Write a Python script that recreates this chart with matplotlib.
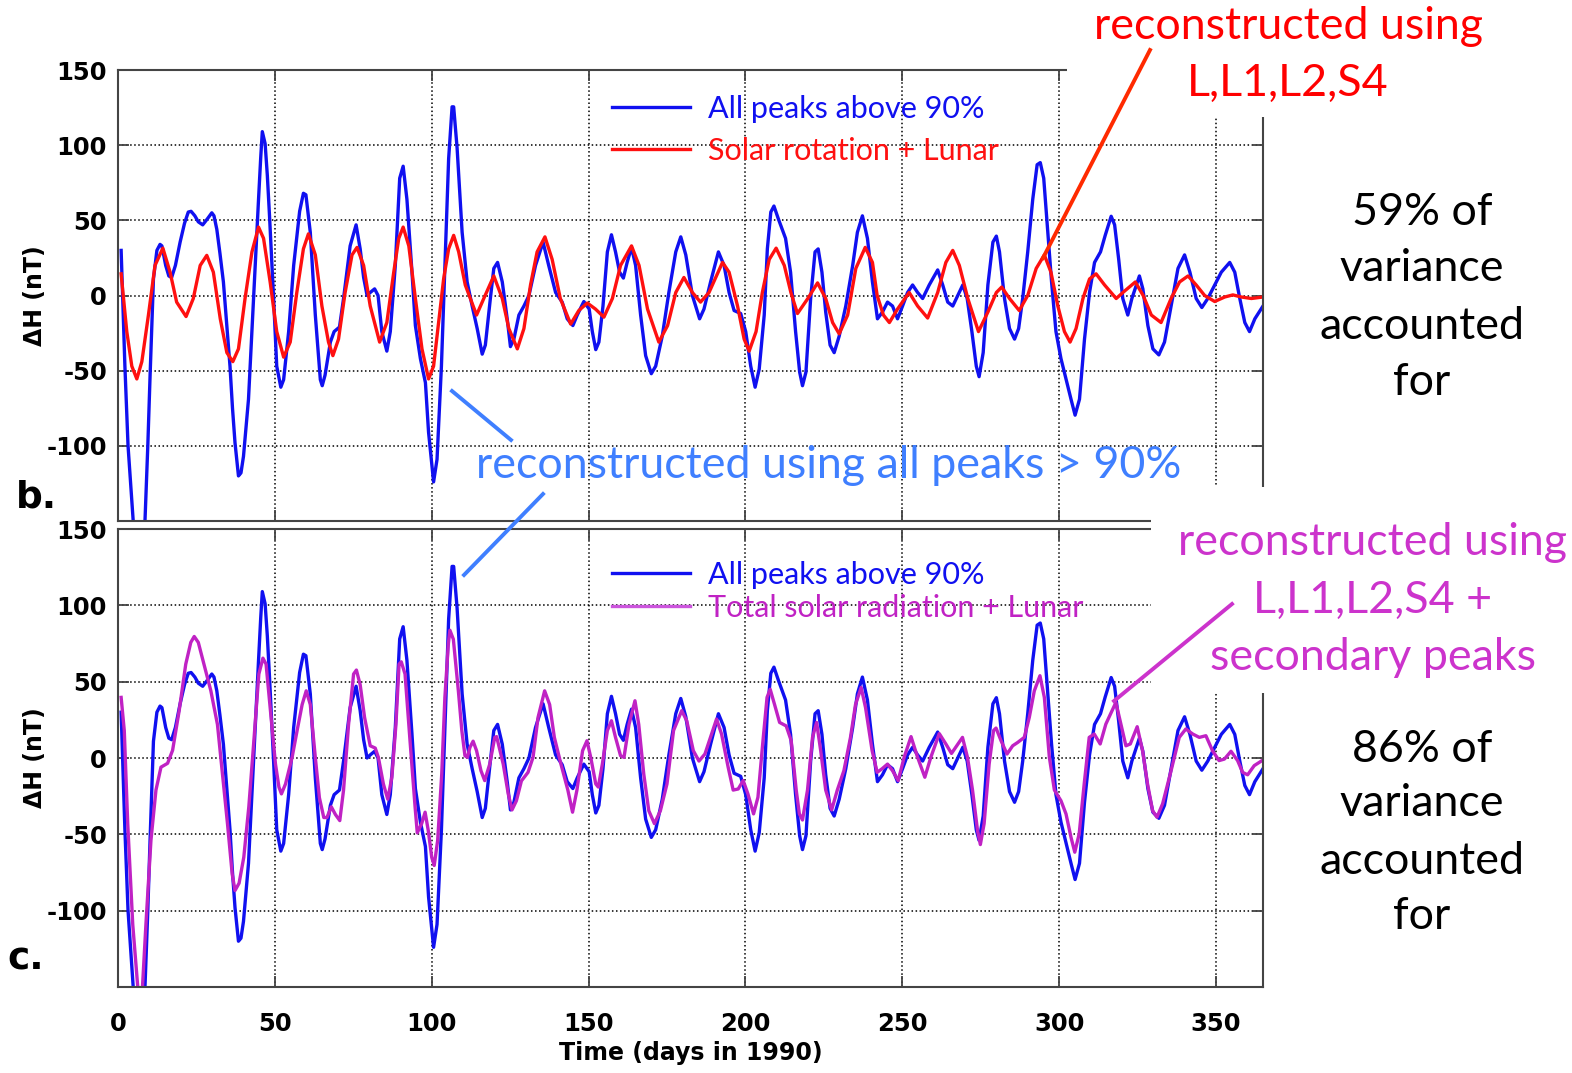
import matplotlib
matplotlib.use('Agg')
import matplotlib.pyplot as plt
from matplotlib.lines import Line2D
from matplotlib.patches import Rectangle

plt.rcParams['axes.unicode_minus'] = False

# ---- data (day of 1990, delta H in nT) ----
blue_days = [1.0, 2.2, 3.2, 6.0, 8.6, 9.5, 10.2, 11.3, 12.4, 13.4, 14.0, 15.2, 16.2, 17.1, 18.3, 19.8,
             21.2, 22.4, 23.3, 24.5, 25.6, 27.0, 28.5, 29.9, 30.6, 31.5, 32.5, 33.6, 34.7, 35.7, 36.5,
             37.3, 38.4, 39.2, 40.0, 41.6, 43.2, 44.8, 45.5, 46.0, 46.9, 47.6, 48.3, 49.6, 50.6, 51.9,
             52.8, 54.4, 56.0, 57.9, 59.1, 59.9, 61.3, 62.9, 64.5, 65.1, 66.0, 67.7, 68.9, 70.6, 71.9,
             74.0, 75.9, 77.2, 78.3, 79.4, 80.4, 81.8, 82.9, 84.1, 85.7, 86.8, 88.4, 89.8, 90.9, 92.1,
             93.7, 94.8, 96.4, 98.0, 99.0, 100.6, 101.7, 103.1, 104.4, 105.4, 106.5, 107.0, 108.1, 109.7,
             111.3, 112.9, 114.5, 116.1, 117.1, 118.7, 119.8, 121.0, 122.5, 124.1, 125.1, 126.2, 127.8,
             129.4, 131.0, 133.1, 135.5, 137.3, 139.5, 141.6, 143.2, 145.0, 146.4, 148.5, 150.2, 151.2,
             152.3, 153.3, 154.6, 156.0, 157.3, 158.6, 159.9, 161.1, 162.3, 163.7, 165.0, 166.6, 168.2,
             170.0, 171.4, 173.5, 175.6, 177.8, 179.4, 181.0, 183.1, 185.4, 186.8, 188.9, 191.4, 193.2,
             194.8, 196.4, 198.5, 200.1, 201.7, 203.1, 204.4, 206.0, 207.0, 208.1, 209.1, 210.5, 212.8,
             214.4, 216.0, 217.3, 218.2, 219.3, 220.8, 222.2, 223.2, 224.4, 225.6, 227.0, 228.3, 229.9,
             232.0, 234.2, 235.7, 237.3, 238.9, 240.5, 242.1, 243.7, 245.3, 246.9, 248.5, 250.1, 251.7,
             253.3, 254.9, 256.5, 258.6, 261.3, 262.9, 264.5, 266.1, 267.7, 269.3, 270.7, 272.2, 273.6,
             274.5, 275.8, 277.3, 278.9, 280.0, 281.0, 282.6, 284.2, 285.8, 287.1, 288.4, 290.0, 291.6,
             293.0, 294.0, 295.1, 296.4, 297.6, 299.0, 300.6, 302.2, 303.8, 305.1, 306.5, 308.1, 309.7,
             311.3, 313.2, 314.7, 316.6, 317.7, 319.0, 320.3, 321.9, 323.2, 325.6, 326.7, 328.3, 329.9,
             331.8, 333.6, 335.7, 337.9, 340.0, 341.7, 343.7, 345.5, 347.4, 349.6, 351.7, 354.4, 356.0,
             357.6, 359.2, 360.7, 362.4, 365.0]
blue_vals = [30, -47, -100, -185, -150, -100, -55, 11, 30, 34, 33, 20, 13, 12, 20, 35.5,
             48, 55.5, 56, 53, 49, 47, 51, 55, 53, 44, 28, 9, -20, -47, -75,
             -98, -120, -118, -107, -69, -2, 64, 92, 109, 101, 80, 53, -2, -47, -61,
             -56, -24, 20, 56, 68, 67, 42, -13, -56, -60, -53, -31, -24, -21, -2,
             33, 47, 31, 12, 0, 2, 4.4, 0, -24, -37, -24, 20, 78, 86, 64,
             16, -20, -42, -58, -91, -124, -109, -47, 31, 91, 125.5, 125.5, 98, 42,
             9, -7, -22, -39, -33, -2, 18, 22, 9, -16, -34, -29, -13,
             -7, 0, 20, 35.5, 20, 2, -4.4, -15.5, -20, -13, -4, -9, -24,
             -36, -31, -7, 29, 40.4, 29, 15.5, 11.6, 22, 32, 20, -13, -40,
             -52, -47, -27, 2, 29, 39, 27, 0, -15.5, -9, 9, 29, 20,
             2, -10, -12, -24, -47, -61, -49, -13, 31, 55.5, 59.5, 51, 38,
             15.5, -24, -51, -60, -51, -2, 29, 31, 15.5, -11, -33, -38, -27,
             -7, 20, 42, 53, 38, 9, -15.5, -11, -4.4, -7, -15.5, -7, 2,
             7, 2, -2, 7, 17, 7, -4.4, -7, 0, 7, -2, -24, -47,
             -54, -38, 7, 35.5, 39.5, 29, -2, -22, -29, -22, -2, 29, 64,
             87, 88.4, 78, 42, 9, -24, -42, -55.5, -69, -79.6, -69, -29, 2,
             22, 29, 40, 52.7, 47, 24, -2, -13, -2, 13, 4.4, -20, -35.5,
             -39.5, -31, -7, 18, 27, 15.5, -2, -8, -2, 7, 15.5, 22, 15.5,
             -2, -18, -24, -15.5, -7]

red_days = [1.0, 2.8, 4.4, 6.0, 7.6, 9.7, 11.8, 14.3, 16.6, 18.7, 21.7, 24.0, 26.2, 28.3, 30.4, 32.6,
            34.7, 36.6, 38.4, 40.5, 42.7, 44.8, 46.4, 48.5, 50.6, 52.8, 54.9, 57.0, 59.1, 60.7, 62.9,
            65.0, 67.1, 68.5, 70.3, 72.4, 74.6, 76.2, 78.3, 80.4, 83.4, 85.7, 87.9, 89.5, 90.9, 92.7,
            94.8, 96.9, 99.0, 100.6, 102.2, 103.8, 105.4, 107.0, 108.6, 110.7, 114.3, 116.6, 119.8,
            122.5, 124.6, 127.3, 129.4, 131.5, 133.6, 136.1, 138.4, 141.0, 144.3, 146.9, 149.6, 152.2,
            154.9, 157.6, 160.2, 163.7, 166.1, 168.8, 172.4, 175.2, 177.8, 180.4, 183.1, 185.7, 188.4,
            192.7, 194.8, 197.5, 199.6, 201.2, 203.4, 205.4, 207.6, 209.8, 212.4, 214.5, 216.6, 219.9,
            223.0, 225.6, 227.8, 229.9, 232.6, 235.2, 238.2, 240.5, 242.0, 244.0, 245.9, 248.5, 252.2,
            254.9, 258.1, 261.3, 263.9, 266.1, 268.2, 270.9, 274.3, 277.3, 280.0, 281.7, 284.2, 287.3,
            290.0, 292.7, 295.3, 297.4, 299.6, 301.7, 303.5, 305.4, 307.6, 309.7, 311.8, 314.5, 318.2,
            320.9, 324.3, 326.8, 329.4, 332.5, 335.7, 338.4, 341.1, 343.7, 346.4, 349.6, 352.8, 355.4,
            358.1, 361.3, 365.0]
red_vals = [14.4, -24, -47, -55.5, -44, -13, 20, 31.5, 15.5, -4.4, -14, -2, 20, 26.7, 15.5, -15.5,
            -38, -44, -35.5, -2, 29, 45.5, 38, 9, -24, -41, -31, 2, 31, 41, 27,
            -7, -31, -40, -29, 2, 27, 32, 20, -7, -31, -18, 15.5, 38, 45.5, 33,
            -2, -35.5, -55.5, -47, -18, 11, 31, 40, 29, 7, -13, -2, 13,
            -2, -22, -35.5, -22, 7, 29, 39, 24, -2, -19, -10, -5, -9,
            -14.4, -2, 20, 33, 20, -9, -31, -20, 2, 12, 2, -4.4, 2,
            22, 15.5, -7, -29, -37, -24, 2, 24, 31.5, 20, 2, -12, -2,
            8.4, -2, -18, -25.5, -13, 18, 32, 22, 0, -13, -18, -9, 2,
            -7, -15, 2, 22, 30, 20, -2, -24, -11, 2, 5.6, -2, -10,
            0, 18, 27, 15.5, -7, -24, -31, -22, -2, 11, 14.4, 7, -2,
            3, 9, 0, -13, -18, -2, 9, 13, 7, 0, -4, -1, 0.4,
            -1, -2, -1]

mag_days = [1.0, 2.0, 3.1, 4.7, 6.3, 7.0, 7.8, 8.9, 10.5, 12.1, 13.7, 15.8, 17.4, 19.5, 21.6, 23.2,
            24.3, 25.6, 27.4, 29.6, 31.7, 33.3, 34.9, 36.4, 37.3, 38.6, 40.1, 41.7, 43.3, 44.9, 46.2,
            47.2, 48.6, 50.2, 51.3, 52.1, 53.4, 55.5, 57.1, 58.7, 60.0, 61.3, 62.9, 64.2, 65.6, 66.6,
            68.0, 69.3, 70.7, 71.9, 73.5, 75.1, 76.0, 77.2, 78.6, 80.4, 82.0, 83.0, 84.6, 86.0, 87.3,
            88.6, 89.6, 90.3, 91.5, 93.1, 94.7, 95.4, 96.8, 97.9, 98.9, 100.0, 100.8, 101.9, 103.2,
            104.2, 105.3, 105.8, 106.9, 108.5, 109.6, 110.6, 111.4, 112.2, 113.2, 114.3, 115.7, 116.9,
            118.5, 120.1, 120.7, 122.8, 124.4, 125.6, 127.0, 128.6, 130.7, 132.3, 133.9, 136.0, 137.6,
            139.1, 141.2, 143.4, 144.9, 146.3, 148.1, 149.5, 150.7, 152.3, 153.1, 154.4, 156.0, 157.3,
            158.6, 160.2, 161.3, 162.9, 164.8, 166.0, 167.6, 169.2, 171.0, 172.9, 175.0, 177.1, 179.7,
            181.3, 183.4, 185.2, 187.1, 190.8, 192.4, 194.5, 196.1, 197.7, 199.3, 200.8, 202.6, 204.0,
            205.6, 206.9, 207.9, 209.3, 210.9, 213.0, 214.6, 216.2, 217.2, 218.2, 219.8, 221.4, 222.7,
            224.0, 225.6, 227.5, 229.3, 231.4, 233.5, 235.1, 236.9, 238.3, 240.4, 242.0, 243.6, 245.3,
            246.9, 248.7, 250.6, 252.8, 254.9, 257.2, 259.1, 261.8, 263.9, 265.7, 269.2, 270.8, 272.4,
            274.0, 274.9, 276.1, 277.7, 279.1, 279.9, 281.5, 283.4, 285.2, 286.8, 288.9, 290.5, 292.1,
            293.9, 295.3, 296.9, 298.5, 300.6, 302.2, 303.8, 305.0, 306.4, 308.0, 309.6, 311.2, 313.1,
            314.9, 318.1, 319.7, 321.3, 322.7, 324.9, 326.6, 328.2, 329.8, 331.2, 333.0, 335.7, 338.3,
            340.4, 342.6, 344.7, 346.8, 348.9, 351.0, 352.7, 354.8, 356.9, 358.5, 360.1, 362.2, 365.0]
mag_vals = [39.7, 18, -43, -109, -150, -165, -150, -109, -54, -21, -6, -3.5, 5, 31, 61.5, 75.7,
            79.6, 75.7, 61.5, 44, 22, -10.5, -43, -76, -86.8, -82, -65, -32, 11, 55, 65.4,
            61.5, 31, -4, -19, -23.5, -17, 0.4, 18, 35, 44, 35, 0.4, -26, -39, -39,
            -32, -37, -41, -21, 22, 55, 57.6, 48, 26.6, 8, 6.5, 0.4, -17, -27, -12.6,
            22, 61.5, 63, 55, 11, -32, -49, -43, -35.5, -47.5, -65, -70.4, -54, -10.5,
            39.7, 74.6, 83.7, 77.8, 44, 18, 1.5, 0.4, 7, 11, 4.8, -8.3, -14.8,
            -4, 13.5, 14, -4, -23.5, -34, -28, -15, -9.4, 0.4, 26.6, 44, 35,
            13.5, -4, -21, -35.5, -21, 4.8, 11.3, 0.4, -17, -19, -4, 18, 24.4,
            13.5, 1.5, 0.4, 22, 37.5, 22, -10.5, -34.5, -43, -34.5, -17, 18, 31,
            24.4, 4.8, -2, 2.6, 25.5, 15.7, -6, -21, -20.3, -14.8, -23.5, -36.6, -25.7,
            11.3, 39.7, 45, 35, 23.3, 21, 11.3, -21, -36.6, -40.6, -21, 13.5, 23.3,
            4.8, -21, -34, -21, -8.3, 13.5, 35, 46.2, 33, 4.8, -9.4, -7, -4,
            -8.3, -14.8, 0.4, 14, 0.4, -12.6, 0.4, 16, 9.2, 3, 13.5, 0.4, -21,
            -47.5, -56.7, -43, -4, 18, 19.6, 11.3, 2.6, 8, 10.2, 13.5, 26.6, 44,
            53.9, 39.7, 0.4, -21, -28, -36.6, -52, -61.7, -49.7, -17, 13.5, 15.7, 9.2,
            22.2, 36.4, 22.2, 8, 9.2, 20.5, 4.8, -17, -34.5, -38.8, -30, -8.3, 13.5,
            19, 15.7, 13.5, 14.6, 4.8, -1.7, -0.7, 4.4, -1.7, -9.4, -11, -5, -1.3]

x_ticks = [0, 50, 100, 150, 200, 250, 300, 350]
y_ticks = [-100, -50, 0, 50, 100, 150]

BLUE = '#1010F0'
RED = '#FF1010'
MAG = '#C022C4'
NOTE_BLUE = '#3F7FFF'
NOTE_MAG = '#CC33CC'
NOTE_FONT = ['Lato', 'DejaVu Sans']

W, H = 1572, 1073
fig = plt.figure(figsize=(W / 100, H / 100), dpi=100)
fig.patch.set_facecolor('white')


def fx(x):
    return x / W


def fy(y):
    return 1 - y / H


ax_b = fig.add_axes([fx(118), fy(521), (1263 - 118) / W, (521 - 70) / H])
ax_c = fig.add_axes([fx(118), fy(987), (1263 - 118) / W, (987 - 529) / H])

ax_b.plot(blue_days, blue_vals, color=BLUE, lw=2.4, label='All peaks above 90%')
ax_b.plot(red_days, red_vals, color=RED, lw=2.4, label='Solar rotation + Lunar')
ax_c.plot(blue_days, blue_vals, color=BLUE, lw=2.4, label='All peaks above 90%')
ax_c.plot(mag_days, mag_vals, color=MAG, lw=2.4, label='Total solar radiation + Lunar')

for ax in (ax_b, ax_c):
    ax.set_xlim(0, 365)
    ax.set_ylim(-150, 150)
    ax.set_xticks(x_ticks)
    ax.set_yticks(y_ticks)
    ax.grid(True, linestyle=':', color='black', lw=1.1)
    ax.tick_params(direction='in', length=8, width=1.3, top=True, right=True,
                   labelsize=17.5, color='#444444')
    ax.tick_params(axis='y', pad=8)
    ax.tick_params(axis='x', pad=18)
    for lab in ax.get_yticklabels() + ax.get_xticklabels():
        lab.set_fontweight('bold')
    for sp in ax.spines.values():
        sp.set_color('#444444')
        sp.set_linewidth(1.5)
    ax.set_ylabel('ΔH (nT)', fontsize=17, fontweight='bold')
    ax.yaxis.set_label_coords(-0.062, 0.5)

ax_b.tick_params(axis='x', labelbottom=False)
ax_c.set_xlabel('Time (days in 1990)', fontsize=17, fontweight='bold')
ax_c.xaxis.set_label_coords(0.5, -0.118)

leg_font = {'family': NOTE_FONT, 'size': 22}
leg_b = ax_b.legend(loc='upper left', bbox_to_anchor=(fx(612), fy(95)), bbox_transform=fig.transFigure,
                    frameon=False, borderpad=0, borderaxespad=0, handlelength=2.56, handletextpad=0.59,
                    labelspacing=0.45, prop=leg_font, labelcolor='linecolor')
leg_c = ax_c.legend(loc='upper left', bbox_to_anchor=(fx(612), fy(561)), bbox_transform=fig.transFigure,
                    frameon=False, borderpad=0, borderaxespad=0, handlelength=2.56, handletextpad=0.59,
                    labelspacing=0.15, prop=leg_font, labelcolor='linecolor')
leg_c.get_lines()[1].set_color('#CC55DD')

# white boxes that hide the frame corners behind the notes
fig.patches.append(Rectangle((fx(1067), fy(117)), 1 - fx(1067), 117 / H, transform=fig.transFigure,
                             facecolor='white', edgecolor='none', zorder=1))
fig.patches.append(Rectangle((fx(1151), fy(693)), 1 - fx(1151), (693 - 487) / H, transform=fig.transFigure,
                             facecolor='white', edgecolor='none', zorder=1))

# panel letters
fig.text(fx(16), fy(508), 'b.', fontsize=27, fontweight='bold', va='baseline', zorder=2)
fig.text(fx(7), fy(970), 'c.', fontsize=27, fontweight='bold', va='baseline', zorder=2)


# notes
def note(x, y, s, color):
    fig.text(fx(x), fy(y), s, color=color, fontsize=32.2, family=NOTE_FONT,
             ha='center', va='baseline', zorder=3)


note(1288, 39, 'reconstructed using', 'red')
note(1288, 96, 'L,L1,L2,S4', 'red')
for y, s in zip([225, 281, 339, 395], ['59% of', 'variance', 'accounted', 'for']):
    note(1422, y, s, 'black')
note(829, 478, 'reconstructed using all peaks > 90%', NOTE_BLUE)
for y, s in zip([555, 613, 670], ['reconstructed using', 'L,L1,L2,S4 +', 'secondary peaks']):
    note(1373, y, s, NOTE_MAG)
for y, s in zip([762, 816, 874, 929], ['86% of', 'variance', 'accounted', 'for']):
    note(1422, y, s, 'black')


# leader lines
def leader(x0, y0, x1, y1, color):
    fig.add_artist(Line2D([fx(x0), fx(x1)], [fy(y0), fy(y1)], transform=fig.transFigure,
                          color=color, lw=2.8, zorder=3))


leader(1150, 50, 1043, 258, '#FF2A00')
leader(452, 391, 511, 440, NOTE_BLUE)
leader(543, 494, 464, 575, NOTE_BLUE)
leader(1232, 604, 1114, 701, NOTE_MAG)

fig.savefig('out.png', dpi=100)
